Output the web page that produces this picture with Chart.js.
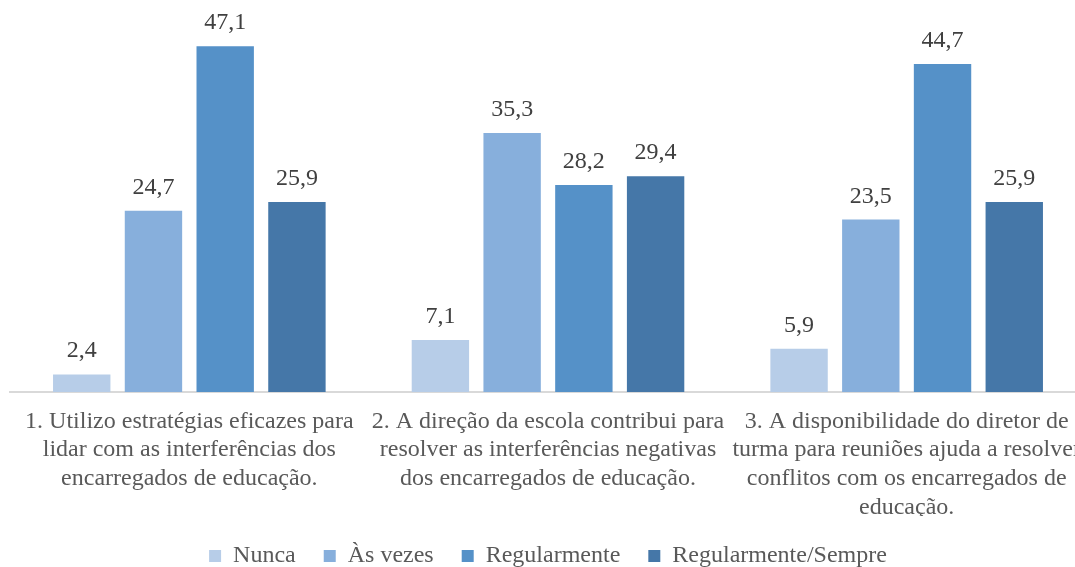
<!DOCTYPE html>
<html>
<head>
<meta charset="utf-8">
<script src="https://cdn.jsdelivr.net/npm/chart.js@4/dist/chart.umd.min.js"></script>
<style>
  html, body { margin: 0; padding: 0; background: #ffffff; overflow: hidden; width: 1075px; height: 567px; }
  #wrap { position: relative; width: 1100px; height: 578px; }
</style>
</head>
<body>
<div id="wrap"><canvas id="c"></canvas></div>
<script>
const categories = [
  ["1. Utilizo estratégias eficazes para", "lidar com as interferências dos", "encarregados de educação."],
  ["2. A direção da escola contribui para", "resolver as interferências negativas", "dos encarregados de educação."],
  ["3. A disponibilidade do diretor de", "turma para reuniões ajuda a resolver", "conflitos com os encarregados de", "educação."]
];
const seriesNames = ["Nunca", "Às vezes", "Regularmente", "Regularmente/Sempre"];
const nunca = [2.4, 7.1, 5.9];
const asVezes = [24.7, 35.3, 23.5];
const regularmente = [47.1, 28.2, 44.7];
const regularmenteSempre = [25.9, 29.4, 25.9];
const colors = ["#B7CDE8", "#87AFDC", "#5591C8", "#4577A8"];

const valueLabels = {
  id: 'valueLabels',
  afterDatasetsDraw(chart) {
    const ctx = chart.ctx;
    ctx.save();
    ctx.font = '24px "Liberation Serif", "Times New Roman", serif';
    ctx.fillStyle = '#404040';
    ctx.textAlign = 'center';
    ctx.textBaseline = 'alphabetic';
    chart.data.datasets.forEach((ds, i) => {
      const meta = chart.getDatasetMeta(i);
      meta.data.forEach((el, j) => {
        const txt = ds.data[j].toFixed(1).replace('.', ',');
        ctx.fillText(txt, el.x, el.y - 17);
      });
    });
    ctx.restore();
  }
};

const allSeries = [nunca, asVezes, regularmente, regularmenteSempre];

new Chart(document.getElementById('c'), {
  type: 'bar',
  data: {
    labels: categories,
    datasets: allSeries.map((d, i) => ({
      label: seriesNames[i],
      data: d,
      backgroundColor: colors[i],
      borderWidth: 0,
      categoryPercentage: 0.8,
      barPercentage: 0.8
    }))
  },
  options: {
    responsive: true,
    maintainAspectRatio: false,
    animation: false,
    layout: { padding: { top: 25, left: 10, right: 14, bottom: 0 } },
    plugins: {
      legend: {
        position: 'bottom',
        labels: {
          boxWidth: 12,
          boxHeight: 12,
          padding: 28,
          color: '#595959',
          font: { family: '"Liberation Serif", "Times New Roman", serif', size: 24 }
        }
      },
      tooltip: { enabled: false }
    },
    scales: {
      x: {
        grid: { display: false, drawTicks: false },
        border: { display: true, color: '#D9D9D9', width: 2 },
        afterFit(scale) { scale.height = 124; },
        ticks: {
          color: '#595959',
          padding: 15,
          maxRotation: 0,
          minRotation: 0,
          autoSkip: false,
          font: { family: '"Liberation Serif", "Times New Roman", serif', size: 24, lineHeight: 1.2 }
        }
      },
      y: {
        display: false,
        min: 0,
        max: 50,
        grid: { display: false }
      }
    }
  },
  plugins: [valueLabels]
});
</script>
</body>
</html>
